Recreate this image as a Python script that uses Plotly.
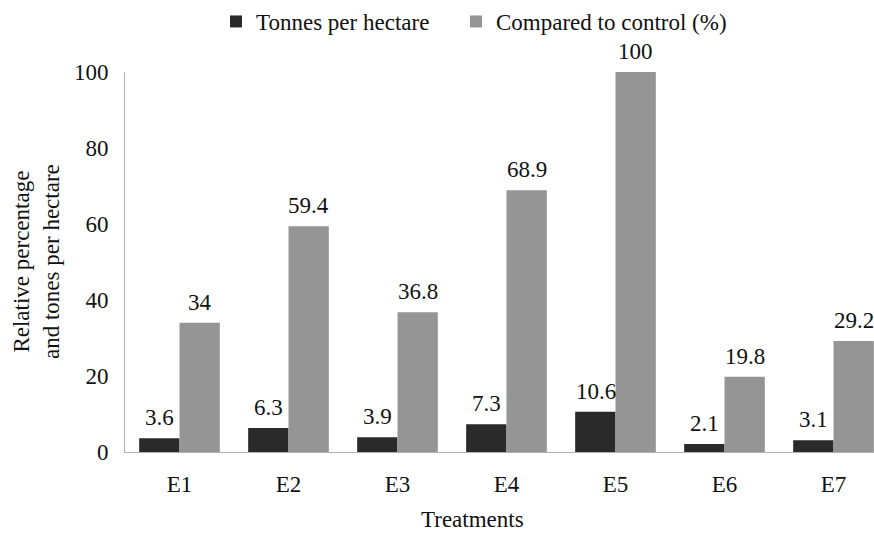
import plotly.graph_objects as go

categories = ["E1", "E2", "E3", "E4", "E5", "E6", "E7"]
tonnes = [3.6, 6.3, 3.9, 7.3, 10.6, 2.1, 3.1]
percent = [34, 59.4, 36.8, 68.9, 100, 19.8, 29.2]
y_ticks = [0, 20, 40, 60, 80, 100]

FONT = "'Liberation Serif', 'Times New Roman', Times, 'DejaVu Serif', serif"
FS = 23
DARK = "#2a2a2a"
GRAY = "#959595"
TXT = "#111"

fig = go.Figure()
fig.add_trace(go.Bar(x=categories, y=tonnes, name="Tonnes per hectare",
                     marker=dict(color=DARK, line=dict(width=0)), legend="legend"))
fig.add_trace(go.Bar(x=categories, y=percent, name="Compared to control (%)",
                     marker=dict(color=GRAY, line=dict(width=0)), legend="legend2"))

# plot area in screen pixels
FIG_W, FIG_H = 874, 539
L, R_PX, T, B = 125, 874, 72, 452
W, H = R_PX - L, B - T

annotations = []
for i, c in enumerate(categories):
    for v, sh in ((tonnes[i], -20), (percent[i], 20)):
        annotations.append(dict(x=c, y=v, xref="x", yref="y", text=f"{v:g}",
                                showarrow=False, xshift=sh, yshift=6,
                                yanchor="bottom", xanchor="center",
                                font=dict(family=FONT, size=FS, color=TXT)))

annotations.append(dict(text="Treatments", x=(472 - L) / W, y=(B - 519) / H,
                        xref="paper", yref="paper", xanchor="center", yanchor="middle",
                        showarrow=False, font=dict(family=FONT, size=FS, color=TXT)))
annotations.append(dict(text="Relative percentage<br>and tones per hectare",
                        x=(36 - L) / W, y=0.5, xref="paper", yref="paper",
                        xanchor="center", yanchor="middle",
                        textangle=-90, showarrow=False,
                        font=dict(family=FONT, size=FS, color=TXT)))

leg_common = dict(orientation="h", xanchor="left", y=1 + T / H, yanchor="top",
                  font=dict(family=FONT, size=FS, color=TXT),
                  itemwidth=30, bgcolor="rgba(0,0,0,0)")

fig.update_layout(
    width=FIG_W, height=FIG_H,
    margin=dict(l=L, r=FIG_W - R_PX, t=T, b=FIG_H - B),
    paper_bgcolor="white", plot_bgcolor="white",
    barmode="group", bargap=0.26, bargroupgap=0,
    font=dict(family=FONT, size=FS, color=TXT),
    showlegend=True,
    legend=dict(x=(216 - L) / W, **leg_common),
    legend2=dict(x=(456 - L) / W, **leg_common),
    annotations=annotations,
    xaxis=dict(range=[-0.5, -0.5 + W / 109], showgrid=False, showline=True,
               linecolor="#b0b0b0", linewidth=1, ticks="", ticklabelstandoff=11,
               tickfont=dict(family=FONT, size=FS, color=TXT), fixedrange=True),
    yaxis=dict(range=[0, 100], tickvals=y_ticks, showgrid=False, showline=True,
               linecolor="#b0b0b0", linewidth=1, ticks="", ticklabelstandoff=11,
               zeroline=False, fixedrange=True,
               tickfont=dict(family=FONT, size=FS, color=TXT)),
)

fig.write_html("out.html", config={"displayModeBar": False},
               post_script="document.body.style.margin='0';document.body.style.overflow='hidden';")
